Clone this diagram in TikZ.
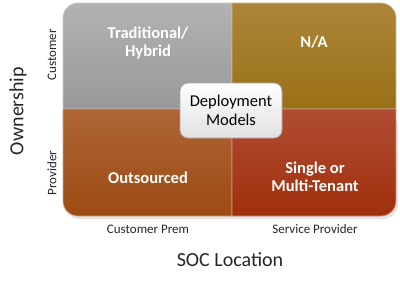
\documentclass[tikz,border=0pt]{standalone}
\usepackage{fontspec}
\setmainfont{Carlito}
\begin{document}
\begin{tikzpicture}[x=1pt,y=-1pt,
  quad/.style={line width=0.8pt},
  qtext/.style={text=white,font=\bfseries\fontsize{16.5}{18}\selectfont,align=center},
  axlab/.style={font=\fontsize{13}{15}\selectfont,text=black!85},
  axtitle/.style={font=\fontsize{20}{22}\selectfont,text=black!85}]
\definecolor{gtop}{HTML}{B2B2B2}\definecolor{gbot}{HTML}{999999}
\definecolor{ntop}{HTML}{AC853A}\definecolor{nbot}{HTML}{9A7016}
\definecolor{otop}{HTML}{AE6537}\definecolor{obot}{HTML}{9C4B12}
\definecolor{rtop}{HTML}{B04C33}\definecolor{rbot}{HTML}{A02F0C}
\useasboundingbox (0,0) rectangle (400,285);
% shadow
\fill[black!10,rounded corners=15pt] (64,112) rectangle (398,219);
% quadrants
\path[top color=gtop,bottom color=gbot,draw=gtop!70!white,quad]
  (63,109) -- (63,18) arc[start angle=180,end angle=270,radius=15] -- (232,3) -- (232,109) -- cycle;
\path[top color=ntop,bottom color=nbot,draw=ntop!60!white,quad]
  (232,3) -- (381,3) arc[start angle=270,end angle=360,radius=15] -- (396,109) -- (232,109) -- cycle;
\path[top color=otop,bottom color=obot,draw=otop!60!white,quad]
  (63,109) -- (232,109) -- (232,216) -- (78,216) arc[start angle=90,end angle=180,radius=15] -- cycle;
\path[top color=rtop,bottom color=rbot,draw=rtop!60!white,quad]
  (232,109) -- (396,109) -- (396,201) arc[start angle=0,end angle=90,radius=15] -- (232,216) -- cycle;
\node[qtext] (th) at (148,43) {Traditional/\\Hybrid};
\node[qtext] (na) at (314,42) {N/A};
\node[qtext] (os) at (148,178) {Outsourced};
\node[qtext] (mt) at (315,177) {Single or\\Multi-Tenant};
% center
\node[draw=black!35,line width=0.8pt,rounded corners=8pt,top color=white,bottom color=black!12,
  minimum width=102pt,minimum height=55pt,align=center,
  font=\fontsize{16.5}{19}\selectfont] (dm) at (231,110.5) {Deployment\\Models};
% axis labels
\node[axlab,rotate=90] (cu) at (52,55) {Customer};
\node[axlab,rotate=90] (pr) at (52,173) {Provider};
\node[axtitle,rotate=90] (ow) at (18,111) {Ownership};
\node[axlab] (cp) at (148,229) {Customer Prem};
\node[axlab] (sp) at (315,229) {Service Provider};
\node[axtitle] (soc) at (230,260) {SOC Location};
\end{tikzpicture}
\end{document}
